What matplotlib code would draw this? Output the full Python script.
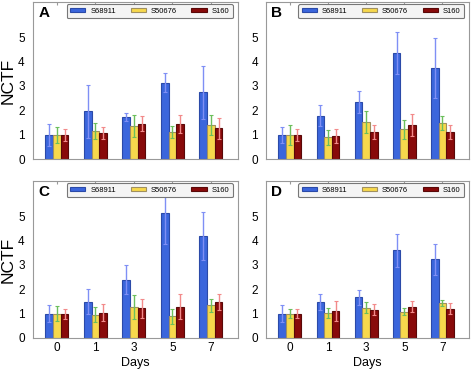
import numpy as np
import matplotlib
matplotlib.use('Agg')
import matplotlib.pyplot as plt

plt.rcParams['font.family'] = ['Liberation Sans', 'DejaVu Sans']

days = ['0', '1', '3', '5', '7']
series = ['S68911', 'S50676', 'S160']

# mean values per panel (blue, yellow, red)
a_vals = [[1.0, 1.96, 1.73, 3.14, 2.74],
          [1.0, 1.16, 1.37, 1.11, 1.40],
          [1.0, 1.07, 1.45, 1.44, 1.27]]
a_errs = [[0.45, 1.10, 0.15, 0.40, 1.10],
          [0.33, 0.33, 0.45, 0.26, 0.42],
          [0.25, 0.23, 0.30, 0.37, 0.43]]

b_vals = [[1.0, 1.79, 2.33, 4.36, 3.74],
          [1.0, 0.90, 1.52, 1.22, 1.48],
          [1.0, 0.96, 1.11, 1.40, 1.11]]
b_errs = [[0.33, 0.45, 0.45, 0.86, 1.23],
          [0.40, 0.30, 0.45, 0.40, 0.30],
          [0.24, 0.29, 0.29, 0.47, 0.29]]

c_vals = [[1.0, 1.49, 2.40, 5.12, 4.20],
          [1.0, 0.96, 1.27, 0.89, 1.34],
          [1.0, 1.03, 1.22, 1.29, 1.48]]
c_errs = [[0.35, 0.52, 0.60, 1.27, 0.98],
          [0.30, 0.31, 0.49, 0.32, 0.28],
          [0.20, 0.35, 0.38, 0.51, 0.32]]

d_vals = [[1.0, 1.49, 1.67, 3.60, 3.23],
          [1.0, 1.03, 1.25, 1.08, 1.44],
          [1.0, 1.10, 1.16, 1.29, 1.21]]
d_errs = [[0.35, 0.33, 0.31, 0.69, 0.63],
          [0.18, 0.21, 0.23, 0.15, 0.13],
          [0.18, 0.42, 0.22, 0.23, 0.22]]

panels = [('A', a_vals, a_errs), ('B', b_vals, b_errs),
          ('C', c_vals, c_errs), ('D', d_vals, d_errs)]

face_colors = ['#3b66dc', '#f7d84c', '#880a0a']
edge_colors = ['#2b4aa8', '#a09060', '#5a0808']
err_colors = ['#7f8ff5', '#6cbf5c', '#f28a8a']

# axes boxes in figure fractions [left, bottom, width, height]
boxes = [[0.070, 0.571, 0.434, 0.424],
         [0.564, 0.571, 0.430, 0.424],
         [0.070, 0.089, 0.434, 0.423],
         [0.564, 0.089, 0.430, 0.423]]

fig = plt.figure(figsize=(4.72, 3.71), dpi=100)
x = np.arange(len(days))
width = 0.2

for i, (letter, vals, errs) in enumerate(panels):
    ax = fig.add_axes(boxes[i])
    for j in range(3):
        ax.bar(x + (j - 1) * width, vals[j], width, color=face_colors[j],
               edgecolor=edge_colors[j], linewidth=0.8, label=series[j], zorder=2)
        ax.errorbar(x + (j - 1) * width, vals[j], yerr=errs[j], fmt='none',
                    ecolor=err_colors[j], elinewidth=1.0, capsize=1.2,
                    capthick=0.8, zorder=3)
    ax.set_xlim(-0.62, 4.7)
    ax.set_ylim(0, 6.45)
    ax.set_yticks(range(6))
    ax.set_xticks(x)
    ax.tick_params(axis='both', direction='in', length=2, color='#999999',
                   labelsize=8.5, pad=3, top=True)
    ax.tick_params(axis='y', length=0, pad=6)
    for s in ax.spines.values():
        s.set_color('#999999')
        s.set_linewidth(0.8)
    if i < 2:
        ax.set_xticklabels([])
    else:
        ax.set_xticklabels(days)
        ax.set_xlabel('Days', fontsize=9, labelpad=2)
    if i % 2 == 0:
        ax.set_ylabel('NCTF', fontsize=12.5, labelpad=2)
    ax.text(0.025, 0.975, letter, transform=ax.transAxes, fontsize=11,
            fontweight='bold', va='top', ha='left')
    leg = ax.legend(loc='upper right', ncol=3, fontsize=5.5, frameon=True,
                    fancybox=True, bbox_to_anchor=(0.975, 0.985),
                    handlelength=2.0, handleheight=0.5, columnspacing=1.9,
                    handletextpad=0.65, borderpad=0.45, borderaxespad=0.0)
    leg.get_frame().set_facecolor('#f4f4f4')
    leg.get_frame().set_edgecolor('#777777')
    leg.get_frame().set_linewidth(0.8)
    leg.get_frame().set_alpha(1.0)

fig.savefig('out.png', dpi=100)
